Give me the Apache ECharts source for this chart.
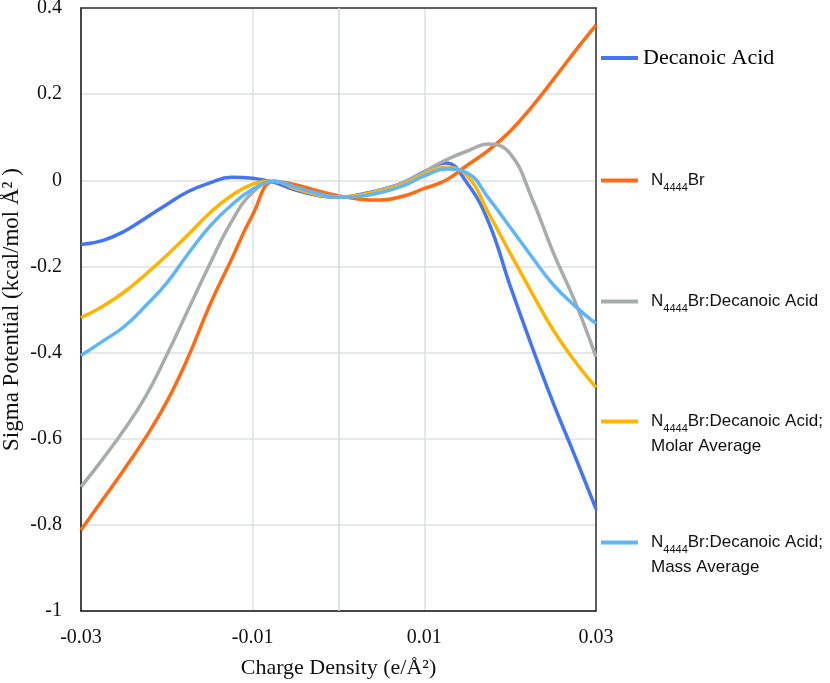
<!DOCTYPE html>
<html>
<head>
<meta charset="utf-8">
<script src="https://cdn.jsdelivr.net/npm/echarts@6/dist/echarts.min.js"></script>
<style>
  html, body { margin: 0; padding: 0; background: #fff; }
  #chart { width: 830px; height: 683px; }
</style>
</head>
<body>
<div id="chart"></div>
<script>
// charge density (e/Å²)
var charge = [-0.03, -0.0275, -0.025, -0.0225, -0.02, -0.0175, -0.015, -0.0125, -0.01, -0.0075, -0.005, -0.0025,
  0, 0.0025, 0.005, 0.0075, 0.01, 0.0125, 0.015, 0.0175, 0.02, 0.0225, 0.025, 0.0275, 0.03]

// sigma potential (kcal/mol Å²)
var decanoicAcid = [-0.149, -0.14, -0.119, -0.088, -0.056, -0.026, -0.006, 0.007, 0.005, -0.005, -0.023, -0.035,
  -0.04, -0.033, -0.022, -0.006, 0.02, 0.04, -0.007, -0.098, -0.245, -0.384, -0.516, -0.638, -0.763]
var n4444Br = [-0.812, -0.742, -0.672, -0.598, -0.514, -0.41, -0.29, -0.185, -0.08, -0.003, -0.01, -0.024,
  -0.036, -0.044, -0.046, -0.037, -0.019, 0, 0.035, 0.07, 0.114, 0.17, 0.233, 0.298, 0.36]
var mixture = [-0.712, -0.648, -0.58, -0.503, -0.405, -0.3, -0.195, -0.097, -0.028, -0.002, -0.019, -0.033,
  -0.039, -0.035, -0.022, -0.006, 0.02, 0.047, 0.068, 0.084, 0.062, -0.04, -0.167, -0.279, -0.41]
var molarAvg = [-0.319, -0.293, -0.26, -0.219, -0.174, -0.126, -0.076, -0.036, -0.009, -0.002, -0.019, -0.033,
  -0.039, -0.034, -0.025, -0.01, 0.014, 0.03, 0.01, -0.077, -0.169, -0.26, -0.347, -0.419, -0.481]
var massAvg = [-0.407, -0.374, -0.34, -0.292, -0.238, -0.17, -0.107, -0.058, -0.021, -0.002, -0.016, -0.03,
  -0.039, -0.037, -0.028, -0.013, 0.01, 0.026, 0.017, -0.042, -0.109, -0.177, -0.242, -0.291, -0.333]

var names = ['Decanoic Acid', 'N4444Br', 'N4444Br:Decanoic Acid', 'N4444Br:Decanoic Acid; Molar Average',
  'N4444Br:Decanoic Acid; Mass Average']
var colors = ['#4475F2', '#FF6A12', '#A6ADAA', '#FFB400', '#5EB6F8']
var values = [decanoicAcid, n4444Br, mixture, molarAvg, massAvg]

var serif = 'Liberation Serif'
var sans = 'Liberation Sans'

function pairs (ys) {
  return charge.map(function (x, i) { return [x, ys[i]] })
}

var sansRich = {
  n: { fontFamily: sans, fontSize: 17, color: '#111', lineHeight: 25 },
  s: { fontFamily: sans, fontSize: 11, color: '#111', lineHeight: 12, verticalAlign: 'bottom' }
}

function legendLabel (name) {
  if (name === 'Decanoic Acid') return name
  var parts = name.split('; ')
  var first = '{n|N}{s|4444}{n|' + parts[0].slice(5) + (parts.length > 1 ? ';' : '') + '}'
  if (parts.length > 1) return '{n| }\n' + first + '\n{n|' + parts[1] + '}'
  return first
}

function legendFor (i, top, serifText) {
  return {
    data: [names[i]],
    left: 601,
    top: top,
    padding: 0,
    icon: 'rect',
    itemWidth: 37,
    itemHeight: 4,
    selectedMode: false,
    formatter: legendLabel,
    textStyle: serifText
      ? { fontFamily: serif, fontSize: 22, color: '#000' }
      : { fontFamily: sans, fontSize: 17, color: '#111', lineHeight: 25, padding: [0, 0, 0, 8], rich: sansRich }
  }
}

var chart = echarts.init(document.getElementById('chart'))

var frame = { show: true, onZero: false, lineStyle: { color: '#333', width: 1.5 } }

var option = {
  animation: false,
  grid: {
    left: 81,
    right: 234,
    top: 8,
    bottom: 72,
    outerBoundsMode: 'none'
  },
  legend: [
    legendFor(0, 47, true),
    legendFor(1, 168, false),
    legendFor(2, 289, false),
    legendFor(3, 384, false),
    legendFor(4, 505, false)
  ],
  xAxis: [{
    type: 'value',
    min: -0.03,
    max: 0.03,
    interval: 0.02,
    name: 'Charge Density (e/Å²)',
    nameLocation: 'middle',
    nameGap: 46,
    nameMoveOverlap: false,
    nameTextStyle: { fontFamily: serif, fontSize: 22, color: '#111' },
    axisLine: { onZero: false, lineStyle: { color: '#111', width: 1.5 } },
    axisTick: { show: false },
    axisLabel: { fontFamily: serif, fontSize: 20, color: '#111', margin: 17 },
    splitLine: { lineStyle: { color: '#dce2e2', width: 1.5 } }
  }, {
    type: 'value',
    position: 'top',
    min: -0.03,
    max: 0.03,
    z: 3,
    axisLine: frame,
    axisTick: { show: false },
    axisLabel: { show: false },
    splitLine: { show: false }
  }],
  yAxis: [{
    type: 'value',
    min: -1,
    max: 0.4,
    interval: 0.2,
    name: 'Sigma Potential (kcal/mol Å² )',
    nameLocation: 'middle',
    nameGap: 58,
    nameMoveOverlap: false,
    nameTextStyle: { fontFamily: serif, fontSize: 23, color: '#111' },
    axisLine: { onZero: false, lineStyle: { color: '#111', width: 1.5 } },
    axisTick: { show: false },
    axisLabel: { fontFamily: serif, fontSize: 20, color: '#111', margin: 19 },
    splitLine: { lineStyle: { color: '#dce2e2', width: 1.5 } }
  }, {
    type: 'value',
    position: 'right',
    min: -1,
    max: 0.4,
    z: 3,
    axisLine: frame,
    axisTick: { show: false },
    axisLabel: { show: false },
    splitLine: { show: false }
  }],
  series: [{
    // vertical line through zero charge
    type: 'line',
    data: [],
    z: 1,
    markLine: {
      silent: true,
      symbol: 'none',
      label: { show: false },
      lineStyle: { color: '#d2d9d9', width: 1.5, type: 'solid' },
      data: [{ xAxis: 0 }]
    }
  }].concat(values.map(function (ys, i) {
    return {
      name: names[i],
      type: 'line',
      data: pairs(ys),
      smooth: 0.45,
      showSymbol: false,
      color: colors[i],
      lineStyle: { color: colors[i], width: 3.5 },
      z: 3 + i
    }
  }))
}

chart.setOption(option)
</script>
</body>
</html>
